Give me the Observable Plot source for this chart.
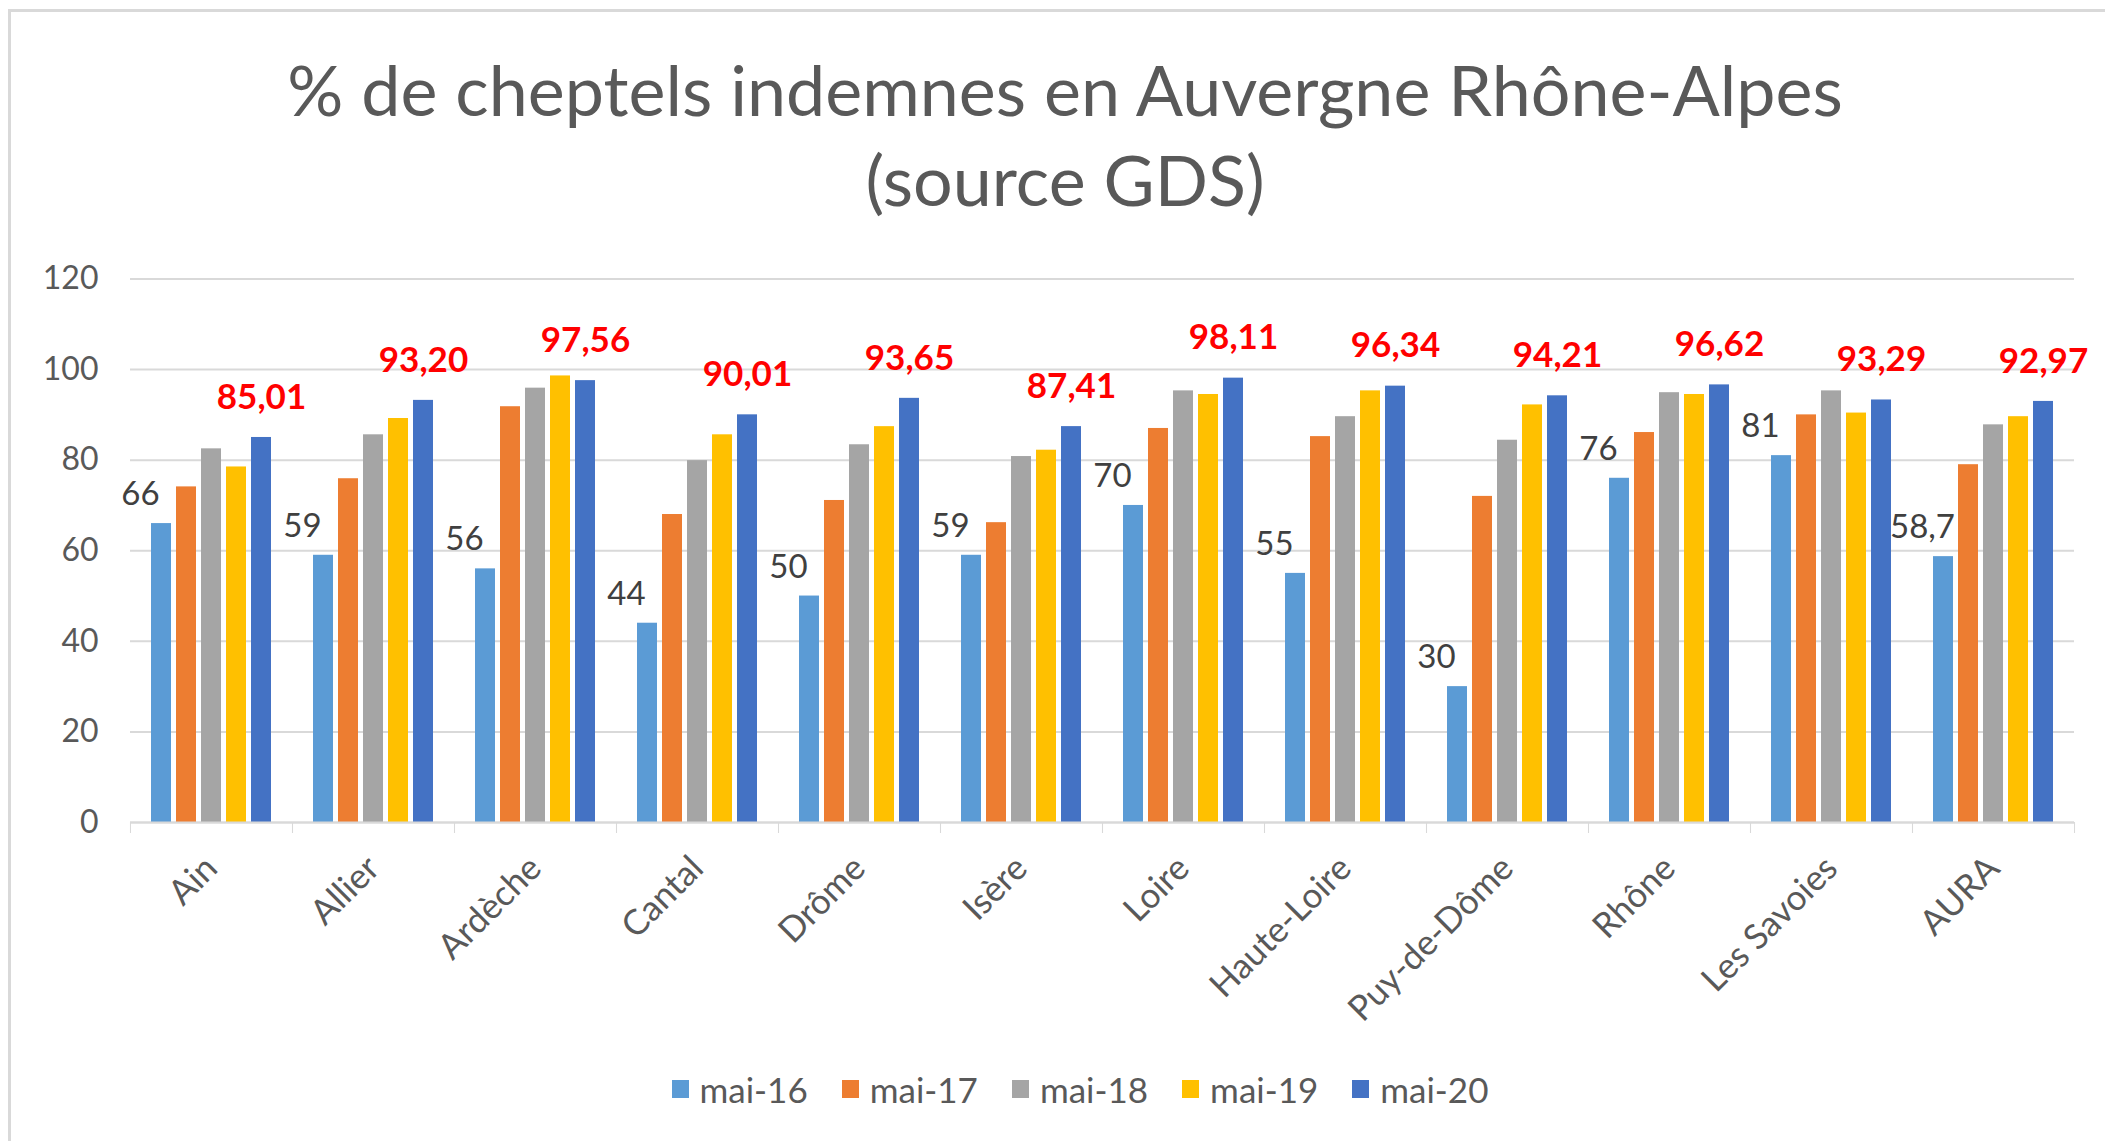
<!DOCTYPE html>
<html>
<head>
<meta charset="utf-8">
<script src="https://cdn.jsdelivr.net/npm/d3@7"></script>
<script src="https://cdn.jsdelivr.net/npm/@observablehq/plot@0.6"></script>
<style>
  html, body { margin: 0; padding: 0; background: #fff; overflow: hidden; }
  body { width: 2105px; height: 1141px; position: relative; font-family: Lato, "Open Sans", sans-serif; }
  #frame { position: absolute; left: 8px; top: 9px; right: 0; bottom: 0; border-top: 3px solid #d9d9d9; border-left: 3px solid #d9d9d9; }
  #title { position: absolute; left: 25px; width: 2080px; top: 44px; text-align: center; color: #595959; font-size: 70px; line-height: 90px; }
  #chart { position: absolute; left: 0; top: 230px; }
  #legend { position: absolute; left: 40px; width: 2080px; top: 1066px; display: flex; justify-content: center; gap: 34px; color: #595959; font-size: 35px; line-height: 46px; }
  .item { display: flex; align-items: center; gap: 11px; }
  .sw { width: 17px; height: 18px; display: inline-block; }
</style>
</head>
<body>
<div id="frame"></div>
<div id="title">% de cheptels indemnes en Auvergne Rhône-Alpes<br>(source GDS)</div>
<div id="chart"></div>
<div id="legend"></div>
<script>
const categories = ["Ain","Allier","Ardèche","Cantal","Drôme","Isère","Loire","Haute-Loire","Puy-de-Dôme","Rhône","Les Savoies","AURA"];
const series = ["mai-16","mai-17","mai-18","mai-19","mai-20"];
const mai16 = [66,59,56,44,50,59,70,55,30,76,81,58.7];
const mai17 = [74.1,75.9,91.8,68.0,71.1,66.2,87.0,85.2,72.0,86.1,90.0,79.0];
const mai18 = [82.5,85.6,95.9,79.9,83.4,80.8,95.3,89.6,84.4,94.9,95.3,87.8];
const mai19 = [78.5,89.2,98.6,85.6,87.4,82.2,94.5,95.3,92.2,94.5,90.4,89.6];
const mai20 = [85.01,93.20,97.56,90.01,93.65,87.41,98.11,96.34,94.21,96.62,93.29,92.97];
const colors = ["#5B9BD5","#ED7D31","#A5A5A5","#FFC000","#4472C4"];
const yTicks = [0,20,40,60,80,100,120];

const seriesValues = [mai16, mai17, mai18, mai19, mai20];
const rows = [];
categories.forEach((c, i) => {
  series.forEach((s, j) => rows.push({cat: c, series: s, value: seriesValues[j][i]}));
});
const rows16 = categories.map((c, i) => ({cat: c, series: "mai-16", value: mai16[i], label: String(mai16[i]).replace(".", ",")}));
const rows20 = categories.map((c, i) => ({cat: c, series: "mai-20", value: mai20[i], label: d3.format(".2f")(mai20[i]).replace(".", ",")}));

const W = 2105, ML = 129, MR = 31;
const band = (W - ML - MR) / categories.length;

const chart = Plot.plot({
  width: W,
  height: 800,
  marginLeft: ML,
  marginRight: MR,
  marginTop: 48.5,
  marginBottom: 208,
  style: {fontFamily: "Lato, 'Open Sans', sans-serif", fontSize: "32px", color: "#595959", background: "transparent", overflow: "visible"},
  fx: {domain: categories, padding: 0, label: null},
  x: {domain: series, paddingInner: 0.2, paddingOuter: 0.84, axis: null},
  y: {domain: [0, 120], label: null},
  color: {domain: series, range: colors},
  marks: [
    Plot.gridY(yTicks, {stroke: "#d9d9d9", strokeOpacity: 1, strokeWidth: 2}),
    Plot.barY(rows, {fx: "cat", x: "series", y: "value", fill: "series"}),
    Plot.ruleY([0], {stroke: "#d9d9d9", strokeWidth: 2}),
    Plot.text(rows16, {fx: "cat", x: "series", y: "value", text: "label", dx: -21, dy: -29, fill: "#404040", fontSize: 33}),
    Plot.text(rows20, {fx: "cat", x: "series", y: "value", text: "label", dy: -40, fill: "#FF0000", fontSize: 35, fontWeight: "bold"}),
    Plot.axisY({ticks: yTicks, tickSize: 0, tickPadding: 32, label: null, fontSize: 32}),
    Plot.axisFx({anchor: "bottom", tickSize: 11, tickFormat: () => "", dx: -band / 2, stroke: "#d9d9d9", label: null}),
    Plot.axisFx({anchor: "bottom", tickSize: 11, tickFormat: () => "", dx: band / 2, stroke: "#d9d9d9", label: null}),
    Plot.axisFx({anchor: "bottom", tickSize: 0, tickPadding: 40, tickRotate: -45, fontSize: 35, label: null})
  ]
});
document.getElementById("chart").appendChild(chart);

const legend = document.getElementById("legend");
series.forEach((s, i) => {
  const it = document.createElement("div");
  it.className = "item";
  const sw = document.createElement("span");
  sw.className = "sw";
  sw.style.background = colors[i];
  const t = document.createElement("span");
  t.textContent = s;
  it.appendChild(sw); it.appendChild(t);
  legend.appendChild(it);
});
</script>
</body>
</html>
